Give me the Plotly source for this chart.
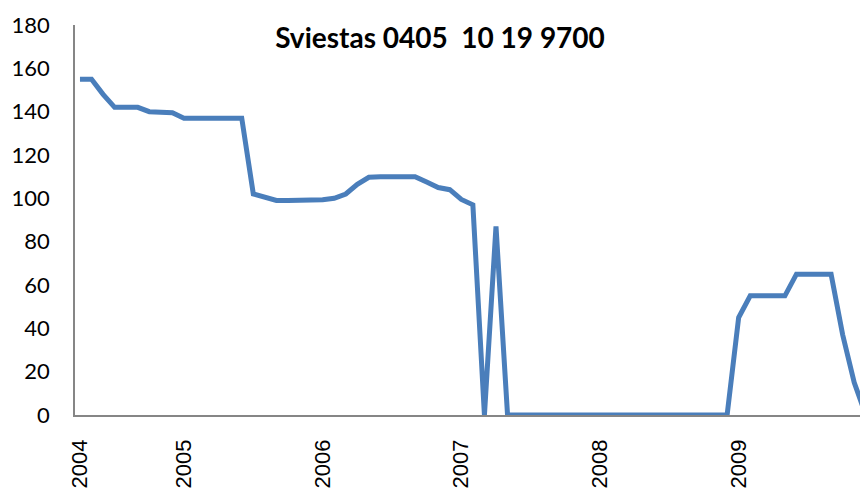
import plotly.graph_objects as go

# Monthly categories April 2004 .. December 2009
years = [2004, 2005, 2006, 2007, 2008, 2009]
categories = [f"{y}-{m:02d}" for y in years for m in range(1, 13) if not (y == 2004 and m < 4)]

values = [
    155, 155, 148, 142, 142, 142, 140, 139.5, 139.5,          # 2004 Apr-Dec
    137, 137, 137, 137, 137, 137, 102, 100.5, 99, 99, 99, 99,  # 2005
    99.3, 100, 102, 106.5, 109.7, 110, 110, 110, 110, 107.5, 105, 104,  # 2006
    99.5, 97, 0, 87, 0, 0, 0, 0, 0, 0, 0, 0,                  # 2007
    0, 0, 0, 0, 0, 0, 0, 0, 0, 0, 0, 0,                       # 2008
    45, 55, 55, 55, 55, 65, 65, 65, 65, 37, 15, 0,            # 2009
]

tick_vals = ["2004-04", "2005-01", "2006-01", "2007-01", "2008-01", "2009-01"]
tick_text = ["2004", "2005", "2006", "2007", "2008", "2009"]
y_ticks = [0, 20, 40, 60, 80, 100, 120, 140, 160, 180]

W, H = 860, 493

fig = go.Figure()
fig.add_trace(go.Scatter(
    x=categories, y=values, mode="lines",
    line=dict(color="#4a7ebb", width=5),
    showlegend=False, hoverinfo="skip",
))

fig.update_layout(
    width=W, height=H,
    margin=dict(l=75, r=0, t=25, b=78),
    paper_bgcolor="white", plot_bgcolor="white",
    title=dict(
        text="<b>Sviestas 0405  10 19 9700</b>",
        x=440 / W, xref="container", xanchor="center",
        y=1 - 38 / H, yref="container", yanchor="middle",
        font=dict(family="Lato, Open Sans, sans-serif", size=28, color="black"),
    ),
    xaxis=dict(
        type="category", range=[-0.43, 67.5], automargin=False,
        tickmode="array", tickvals=tick_vals, ticktext=tick_text,
        tickangle=-90, ticks="", showgrid=False, zeroline=False,
        showline=True, linecolor="#868686", linewidth=1.5,
        tickfont=dict(family="Liberation Sans, Arial, sans-serif", size=22, color="black"),
        ticklabelstandoff=14, layer="below traces",
    ),
    yaxis=dict(
        range=[0, 180], tickmode="array", tickvals=y_ticks, automargin=False,
        ticks="", showgrid=False, zeroline=False,
        showline=True, linecolor="#868686", linewidth=1.5,
        tickfont=dict(family="Lato, Open Sans, sans-serif", size=22, color="black"),
        ticklabelstandoff=19, layer="below traces",
    ),
)

fig.write_html(
    "out.html",
    config={"displayModeBar": False},
    post_script="document.body.style.margin='0px';document.body.style.overflow='hidden';",
)
